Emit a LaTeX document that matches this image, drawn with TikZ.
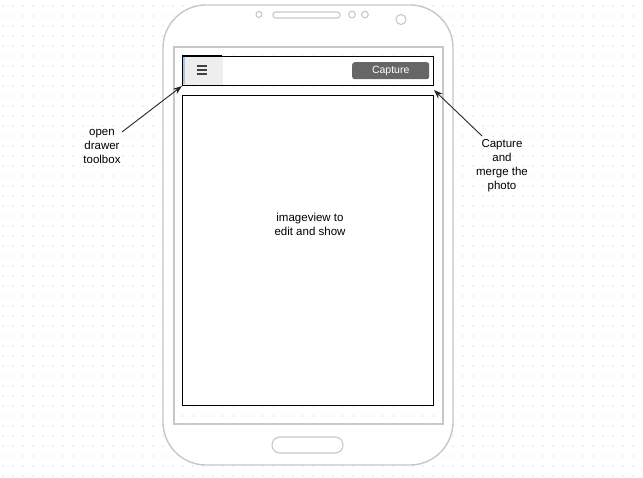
\documentclass[tikz,border=0pt]{standalone}
\usepackage{fontspec}
\setmainfont{Liberation Sans}
\usetikzlibrary{arrows.meta}
\definecolor{phonegray}{HTML}{C8C8C8}
\definecolor{dotgray}{HTML}{C4C4C4}
\definecolor{menugray}{HTML}{EEEEEE}
\definecolor{btngray}{HTML}{666666}
\definecolor{stripblue}{HTML}{A9C4E0}
\tikzset{
  phoneline/.style={draw=phonegray, line width=1.4pt},
  lbl/.style={align=center, font=\fontsize{11.5}{14}\selectfont, inner sep=0pt},
  blackbox/.style={draw=black, line width=1pt},
  callout/.style={draw=black!85, line width=0.9pt, -{Stealth[length=9pt,width=6.5pt]}},
}
\begin{document}
\begin{tikzpicture}[x=1pt,y=-1pt]
\useasboundingbox (0,0) rectangle (643,478);
\fill[white] (0,0) rectangle (643,478);
% dot grid
\foreach \i in {0,...,63}{
  \foreach \j in {0,...,47}{
    \fill[dotgray] (3+10*\i,6+10*\j) circle (0.55);
  }
}
% phone body (white bezel, transparent screen)
\fill[white, even odd rule, rounded corners=43]
  (163,5) rectangle (453,465)
  [sharp corners] (174,47) rectangle (443,424);
\draw[phoneline, rounded corners=43] (163,5) rectangle (453,465);
\draw[draw=phonegray, line width=1.8pt] (174,47) rectangle (443,424);
% speaker, sensors, camera
\draw[phoneline, line width=1.1pt, rounded corners=2.5] (273,12) rectangle (340,18);
\draw[phoneline, line width=1.1pt] (259,14.5) circle (3);
\draw[phoneline, line width=1.1pt] (352,14.5) circle (3.3);
\draw[phoneline, line width=1.1pt] (365,14.5) circle (3.3);
\draw[phoneline, line width=1.1pt] (401,19.5) circle (5);
% home button
\draw[phoneline, line width=1.1pt, rounded corners=8] (272,437) rectangle (343,453);
% toolbar
\node[blackbox, fill=white, minimum width=251, minimum height=29, anchor=north west, inner sep=0pt] (toolbar) at (182,56) {};
\node[fill=menugray, minimum width=40, minimum height=28, anchor=north west, inner sep=0pt] (menu) at (182.5,56.5) {};
\fill[stripblue] (182.5,56.5) rectangle (185,84.5);
\draw[black, line width=2pt] (182,56.5) -- (222,56.5);
\foreach \k in {0,1,2}{
  \draw[black!75, line width=2pt] (196.5,66.5+4*\k) -- (206.5,66.5+4*\k);
}
\node[fill=btngray, rounded corners=2.5, minimum width=77, minimum height=17, anchor=north west, inner sep=0pt,
      text=white, font=\fontsize{10.5}{12}\selectfont] (capture) at (352,62) {Capture};
% image view
\node[blackbox, fill=white, minimum width=251, minimum height=310, anchor=north west, inner sep=0pt] (imageview) at (182,95) {};
\node[lbl] (ivtext) at (310,224) {imageview to\\edit and show};
% labels and callouts
\node[lbl] (leftlabel) at (102,146) {open\\drawer\\toolbox};
\node[lbl] (rightlabel) at (502,166) {Capture\\and\\merge the\\photo};
\coordinate (lstart) at (122,132);
\coordinate (rstart) at (482,136);
\draw[callout] (lstart) -- (toolbar.south west);
\draw[callout] (rstart) -- ([yshift=-4]toolbar.south east);
\end{tikzpicture}
\end{document}
